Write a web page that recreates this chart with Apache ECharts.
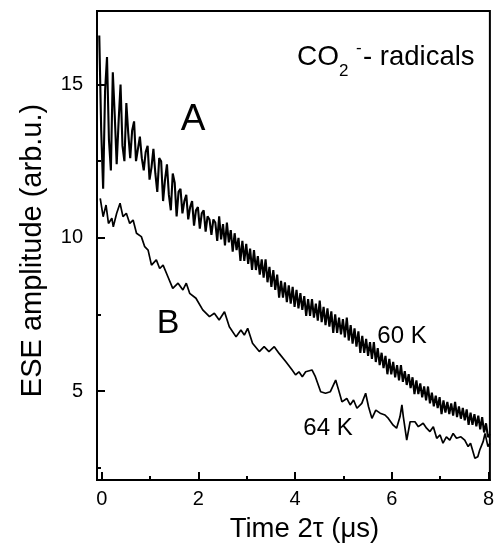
<!DOCTYPE html>
<html>
<head>
<meta charset="utf-8">
<script src="https://cdn.jsdelivr.net/npm/echarts/dist/echarts.min.js"></script>
<style>
  html, body { margin: 0; padding: 0; background: #fff; }
  #chart { width: 497px; height: 549px; }
</style>
</head>
<body>
<div id="chart"></div>
<script>
// Electron spin echo decay of CO2- radicals at 60 K (A) and 64 K (B)

const xMajorTicks = [0, 2, 4, 6, 8];
const xMinorTicks = [1, 3, 5, 7];
const yMajorTicks = [5, 10, 15];
const yMinorTicks = [2.5, 7.5, 12.5];

// Trace A, 60 K: one sample every 0.04 µs starting at -0.05 µs
const aStart = -0.05;
const aStep = 0.04;
const aValue = [
  16.6, 13.5, 11.6, 14.8, 15.9, 13.2, 12.2, 15.4, 14.0, 12.4,
  13.8, 15.0, 13.0, 12.5, 14.4, 13.4, 12.6, 13.5, 13.8, 12.5,
  12.9, 13.3, 12.6, 12.2, 12.8, 13.0, 11.9, 12.3, 12.9, 12.1,
  11.5, 12.6, 12.5, 11.2, 11.9, 12.4, 11.4, 10.9, 12.1, 11.8,
  10.7, 11.5, 11.6, 10.8, 11.2, 11.4, 10.6, 11.0, 11.2, 10.4,
  10.9, 11.0, 10.3, 10.8, 10.9, 10.2, 10.7, 10.6, 10.1, 10.6,
  10.5, 9.9, 10.7, 9.95, 10.45, 9.75, 10.5, 9.85, 10.25, 9.55,
  10.15, 9.6, 10.0, 9.25, 9.9, 9.25, 9.8, 9.15, 9.65, 8.95,
  9.6, 8.95, 9.4, 8.8, 9.3, 8.7, 9.3, 8.55, 9.05, 8.4,
  8.95, 8.3, 8.8, 8.05, 8.6, 8.05, 8.55, 7.9, 8.45, 7.85,
  8.4, 7.75, 8.3, 7.7, 8.2, 7.65, 8.1, 7.45, 8.0, 7.45,
  8.0, 7.4, 7.85, 7.3, 7.95, 7.25, 7.75, 7.15, 7.7, 7.1,
  7.6, 6.9, 7.5, 6.9, 7.4, 6.85, 7.35, 6.75, 7.4, 6.65,
  7.15, 6.55, 7.05, 6.45, 6.95, 6.25, 6.8, 6.25, 6.7, 6.15,
  6.6, 6.05, 6.6, 5.95, 6.4, 5.85, 6.25, 5.75, 6.15, 5.55,
  6.05, 5.55, 5.95, 5.45, 5.85, 5.35, 5.85, 5.3, 5.65, 5.2,
  5.55, 5.1, 5.45, 4.9, 5.35, 4.9, 5.25, 4.8, 5.15, 4.7,
  5.15, 4.6, 4.95, 4.5, 4.85, 4.45, 4.8, 4.25, 4.7, 4.3,
  4.65, 4.25, 4.6, 4.2, 4.65, 4.15, 4.5, 4.1, 4.45, 4.05,
  4.4, 3.9, 4.3, 3.9, 4.25, 3.85, 4.2, 3.75, 4.15, 3.65,
  3.95, 3.5, 3.6
];

// Trace B, 64 K
const bTime = [
  -0.03, 0.03, 0.09, 0.14, 0.21, 0.24, 0.31, 0.38, 0.44, 0.51,
  0.58, 0.65, 0.72, 0.82, 0.89, 0.96, 1.03, 1.13, 1.20, 1.27,
  1.37, 1.47, 1.58, 1.68, 1.75, 1.82, 1.95, 2.09, 2.23, 2.33,
  2.43, 2.54, 2.64, 2.78, 2.88, 2.95, 3.02, 3.12, 3.26, 3.36,
  3.46, 3.57, 3.67, 3.81, 3.94, 4.01, 4.08, 4.15, 4.22, 4.35,
  4.42, 4.53, 4.63, 4.73, 4.84, 4.90, 4.97, 5.07, 5.14, 5.21,
  5.28, 5.38, 5.46, 5.52, 5.59, 5.67, 5.76, 5.86, 5.93, 6.03,
  6.10, 6.17, 6.21, 6.24, 6.31, 6.38, 6.48, 6.55, 6.65, 6.72,
  6.79, 6.86, 6.93, 7.00, 7.06, 7.13, 7.20, 7.27, 7.34, 7.43,
  7.51, 7.58, 7.63, 7.72, 7.78, 7.82, 7.89, 7.93, 7.99, 8.03
];
const bValue = [
  11.29, 10.69, 11.07, 10.47, 10.64, 10.36, 10.80, 11.13, 10.69, 10.80,
  10.47, 10.58, 10.15, 10.04, 9.71, 9.60, 9.11, 9.28, 9.00, 9.11,
  8.73, 8.35, 8.52, 8.30, 8.52, 8.19, 8.03, 7.65, 7.43, 7.54,
  7.32, 7.59, 7.10, 6.77, 6.99, 6.83, 7.05, 6.56, 6.29, 6.45,
  6.29, 6.45, 6.23, 5.96, 5.69, 5.53, 5.63, 5.47, 5.63, 5.69,
  5.47, 4.98, 4.93, 4.98, 5.36, 5.04, 4.65, 4.76, 4.55, 4.71,
  4.44, 4.60, 4.93, 4.49, 4.11, 4.38, 4.28, 4.22, 4.11, 3.89,
  3.79, 4.16, 4.55, 4.16, 3.40, 4.00, 4.00, 3.84, 3.95, 3.79,
  3.68, 3.84, 3.46, 3.57, 3.30, 3.51, 3.40, 3.62, 3.46, 3.51,
  3.40, 3.19, 3.30, 2.81, 2.86, 3.08, 3.35, 3.62, 3.19, 3.30
];

const aData = aValue.map((v, i) => [+(aStart + i * aStep).toFixed(3), v]);
const bData = bValue.map((v, i) => [bTime[i], v]);

const FONT = '"Liberation Sans", Arial, Helvetica, sans-serif';
const INK = '#000';

const X_MIN = -0.097, X_MAX = 8.03;
const Y_MIN = 2.1, Y_MAX = 17.4;

function label(text, x, y, size, align) {
  return {
    type: 'text',
    x: x, y: y,
    silent: true,
    style: {
      text: text,
      fill: INK,
      font: size + 'px ' + FONT,
      fontSize: size,
      fontFamily: FONT,
      align: align || 'center',
      textAlign: align || 'center',
      verticalAlign: 'middle',
      textVerticalAlign: 'middle'
    }
  };
}

const chart = echarts.init(document.getElementById('chart'), null, { renderer: 'canvas' });

chart.setOption({
  animation: false,
  backgroundColor: '#fff',
  grid: {
    left: 97, right: 5, top: 11, bottom: 69,
    show: true, borderColor: INK, borderWidth: 2, backgroundColor: 'transparent'
  },
  xAxis: [
    {
      type: 'value', min: X_MIN, max: X_MAX, position: 'bottom',
      axisLine: { show: true, onZero: false, lineStyle: { color: INK, width: 2 } },
      axisTick: { show: true, inside: true, length: 8, customValues: xMajorTicks, lineStyle: { color: INK, width: 2 } },
      axisLabel: { show: true, customValues: xMajorTicks, margin: 9, color: INK, fontSize: 20, fontFamily: FONT },
      splitLine: { show: false },
      name: 'Time 2τ (μs)', nameLocation: 'middle', nameGap: 35,
      nameTextStyle: { fontSize: 27.5, color: INK, fontFamily: FONT, padding: [0, 0, 0, 22] }
    },
    {
      type: 'value', min: X_MIN, max: X_MAX, position: 'bottom',
      axisLine: { show: false, onZero: false },
      axisTick: { show: true, inside: true, length: 4, customValues: xMinorTicks, lineStyle: { color: INK, width: 2 } },
      axisLabel: { show: false },
      splitLine: { show: false }
    }
  ],
  yAxis: [
    {
      type: 'value', min: Y_MIN, max: Y_MAX, position: 'left',
      axisLine: { show: true, onZero: false, lineStyle: { color: INK, width: 2 } },
      axisTick: { show: true, inside: true, length: 8, customValues: yMajorTicks, lineStyle: { color: INK, width: 2 } },
      axisLabel: { show: true, customValues: yMajorTicks, margin: 14, color: INK, fontSize: 20, fontFamily: FONT },
      splitLine: { show: false },
      name: 'ESE amplitude (arb.u.)', nameLocation: 'middle', nameGap: 50,
      nameTextStyle: { fontSize: 29, color: INK, fontFamily: FONT, padding: [0, 10, 0, 0] }
    },
    {
      type: 'value', min: Y_MIN, max: Y_MAX, position: 'left',
      axisLine: { show: false, onZero: false },
      axisTick: { show: true, inside: true, length: 4, customValues: yMinorTicks, lineStyle: { color: INK, width: 2 } },
      axisLabel: { show: false },
      splitLine: { show: false }
    }
  ],
  series: [
    {
      name: '60 K', type: 'line', xAxisIndex: 0, yAxisIndex: 0,
      data: aData, symbol: 'none', showSymbol: false, silent: true,
      lineStyle: { color: INK, width: 2.1 }
    },
    {
      name: '64 K', type: 'line', xAxisIndex: 0, yAxisIndex: 0,
      data: bData, symbol: 'none', showSymbol: false, silent: true,
      lineStyle: { color: INK, width: 1.7 }
    }
  ],
  graphic: [
    label('A', 193, 120, 37),
    label('B', 168, 324, 34),
    label('60 K', 402, 336, 24),
    label('64 K', 328, 428, 24),
    label('CO', 297, 57, 28, 'left'),
    label('2', 339, 71, 17, 'left'),
    label('-', 356, 48, 17, 'left'),
    label('- radicals', 363, 57, 27.5, 'left')
  ]
});
</script>
</body>
</html>
